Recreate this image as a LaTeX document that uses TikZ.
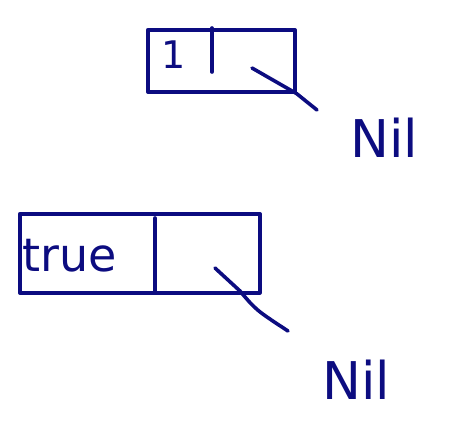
\documentclass[tikz,border=0pt]{standalone}
\usepackage{fontspec}
\setmainfont{DejaVu Sans}
\definecolor{ink}{RGB}{12,12,128}
\begin{document}
\begin{tikzpicture}[x=1pt,y=-1pt,
  pen/.style={draw=ink,line width=3.6pt,line cap=round,line join=round},
  cellbox/.style={pen,inner sep=0pt,anchor=north west},
  lbl/.style={text=ink,font=\fontsize{52}{52}\selectfont,inner sep=0pt},
  val/.style={text=ink,font=\fontsize{38}{38}\selectfont,inner sep=0pt}]
\useasboundingbox (0,0) rectangle (460,424);
% top cell
\node[cellbox,minimum width=147pt,minimum height=62pt] (c1) at (146,28) {};
\coordinate (d1t) at (212,28);
\coordinate (d1b) at (212,72);
\draw[pen] (d1t) -- (d1b);
\node[val] (one) at (174,55) {1};
\coordinate (s1) at (252,68);
\coordinate (e1) at (317,110);
\node[lbl] (nil1) at (384,138) {Nil};
\draw[pen] (s1) -- (c1.south east) -- (e1);
% bottom cell
\node[cellbox,minimum width=240pt,minimum height=79pt] (c2) at (18,212) {};
\coordinate (d2t) at (155,218);
\coordinate (d2b) at (155,291);
\draw[pen] (d2t) -- (d2b);
\node[val,font=\fontsize{46}{46}\selectfont] (tru) at (70,256) {true};
\coordinate (s2) at (215,268);
\coordinate (b2) at (240,291);
\coordinate (e2) at (288,331);
\node[lbl] (nil2) at (356,380) {Nil};
\draw[pen] (s2) -- (b2) .. controls (256,310) .. (e2);
\end{tikzpicture}
\end{document}
